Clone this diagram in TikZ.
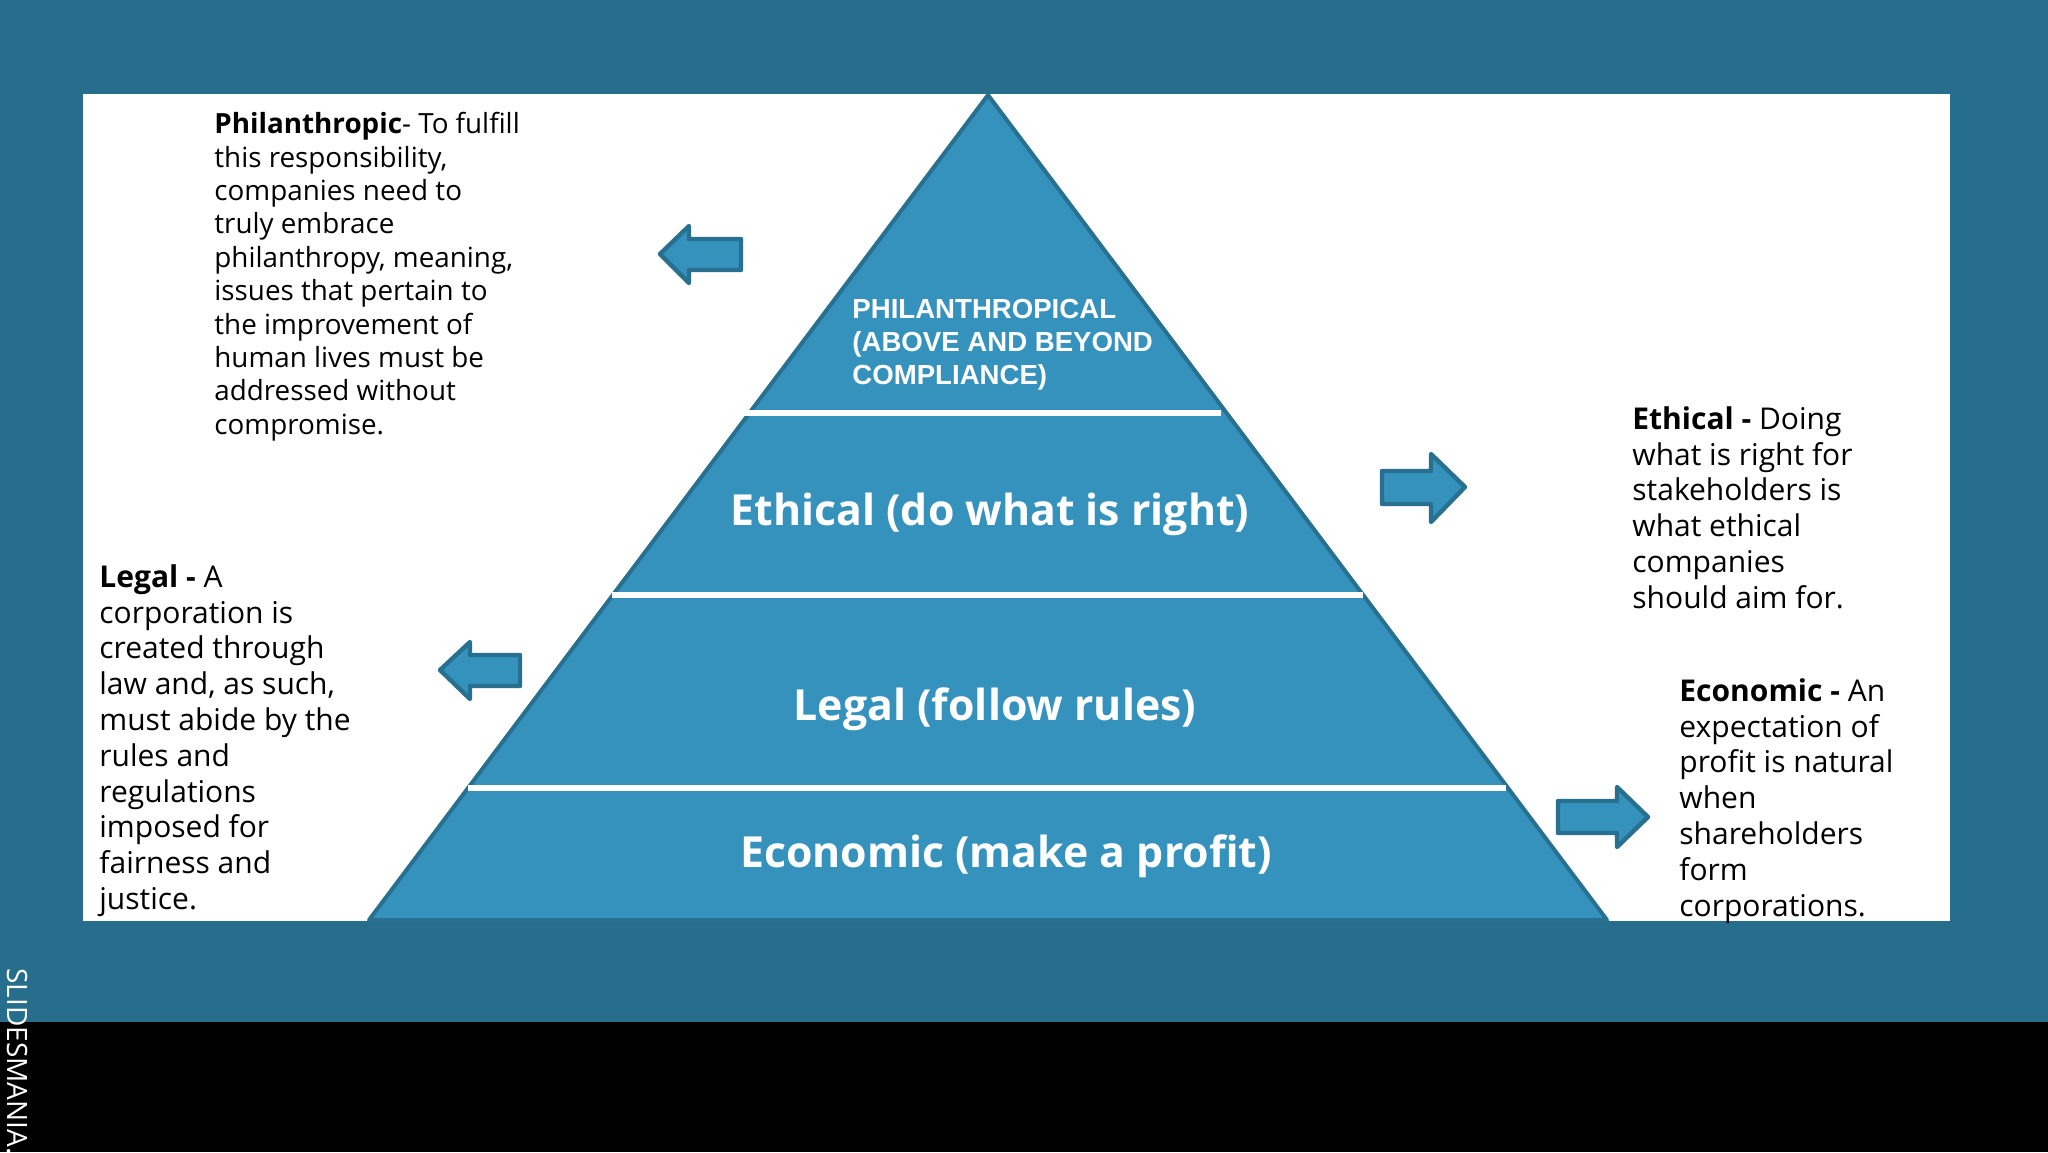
\documentclass[tikz,border=0pt]{standalone}
\usepackage{fontspec}
\setmainfont{Open Sans}
\newfontfamily\libsans{Liberation Sans}
\definecolor{bandcol}{HTML}{276E8C}
\definecolor{pyrcol}{HTML}{3592BC}
\definecolor{edgecol}{HTML}{27708F}
\tikzset{
  body/.style={anchor=north west,inner sep=0pt,align=left,text=black,font=\fontsize{15}{17.9}\selectfont},
  bodysmall/.style={anchor=north west,inner sep=0pt,align=left,text=black,font=\fontsize{13.9}{16.7}\selectfont},
  tier/.style={inner sep=0pt,text=white,font=\fontsize{21.4}{26}\selectfont\bfseries},
  sepline/.style={draw=white,line width=3pt},
  blockarrow/.style={fill=pyrcol,draw=edgecol,line width=2.2pt,line join=round},
}
\begin{document}
\begin{tikzpicture}[x=0.5pt,y=-0.5pt]
\useasboundingbox (0,0) rectangle (2048,1152);
\begin{scope}
\clip (0,0) rectangle (2048,1152);
\fill[bandcol] (0,0) rectangle (2048,1022);
\fill[black] (0,1022) rectangle (2048,1152);
\fill[white] (83,94) rectangle (1950,921);
\fill[pyrcol,draw=edgecol,line width=2pt,line join=round] (988,95) -- (369,920) -- (1607,920) -- cycle;
\draw[sepline] (743,413) -- (1221,413);
\draw[sepline] (612,595) -- (1363,595);
\draw[sepline] (468,788) -- (1506,788);
\draw[blockarrow] (660,254) -- (689,226) -- (689,239) -- (741,239) -- (741,270) -- (689,270) -- (689,283) -- cycle;
\draw[blockarrow] (440,670) -- (470,642) -- (470,655) -- (520,655) -- (520,686) -- (470,686) -- (470,699) -- cycle;
\draw[blockarrow] (1465,487) -- (1431,454) -- (1431,471) -- (1382,471) -- (1382,504) -- (1431,504) -- (1431,522) -- cycle;
\draw[blockarrow] (1648,817) -- (1617,787) -- (1617,801) -- (1558,801) -- (1558,833) -- (1617,833) -- (1617,847) -- cycle;
\node[anchor=north west,inner sep=0pt,align=left,text=white,font=\libsans\bfseries\fontsize{13.8}{16.5}\selectfont] (phil) at (852,299) {PHILANTHROPICAL\\(ABOVE AND BEYOND\\COMPLIANCE)};
\node[tier] (eth) at (990,514) {Ethical (do what is right)};
\node[tier] (leg) at (995,709) {Legal (follow rules)};
\node[tier] (eco) at (1006,856) {Economic (make a profit)};
\node[bodysmall] (ptext) at (214,112) {\textbf{Philanthropic}- To fulfill\\this responsibility,\\companies need to\\truly embrace\\philanthropy, meaning,\\issues that pertain to\\the improvement of\\human lives must be\\addressed without\\compromise.};
\node[body] (ltext) at (99,564) {\textbf{Legal -} A\\corporation is\\created through\\law and, as such,\\must abide by the\\rules and\\regulations\\imposed for\\fairness and\\justice.};
\node[body] (etext) at (1632,406) {\textbf{Ethical -} Doing\\what is right for\\stakeholders is\\what ethical\\companies\\should aim for.};
\node[body] (ctext) at (1679,678) {\textbf{Economic -} An\\expectation of\\profit is natural\\when\\shareholders\\form\\corporations.};
\node[anchor=north west,inner sep=0pt,rotate=-90,text=white,font=\fontsize{14}{16}\selectfont] (brand) at (28,968) {SLIDESMANIA.};
\end{scope}
\end{tikzpicture}
\end{document}
